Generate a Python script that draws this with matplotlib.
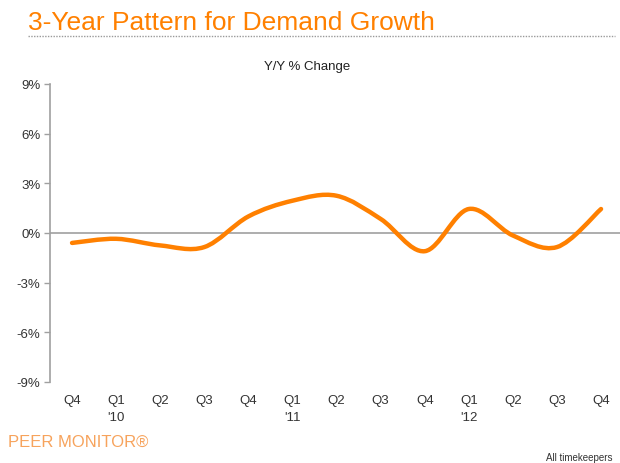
import numpy as np
import matplotlib
matplotlib.use('Agg')
import matplotlib.pyplot as plt
from matplotlib.path import Path
from matplotlib.patches import PathPatch
from matplotlib.lines import Line2D

quarters = ['Q4', 'Q1', 'Q2', 'Q3', 'Q4', 'Q1', 'Q2', 'Q3', 'Q4', 'Q1', 'Q2', 'Q3', 'Q4']
years = ['', "'10", '', '', '', "'11", '', '', '', "'12", '', '', '']
yoy_change = [-0.6, -0.35, -0.75, -0.85, 1.0, 1.95, 2.25, 0.85, -1.1, 1.45, -0.15, -0.85, 1.45]
y_ticks = [-9, -6, -3, 0, 3, 6, 9]

orange = '#FF8000'
plt.rcParams['font.family'] = ['Liberation Sans', 'DejaVu Sans']

fig = plt.figure(figsize=(6.2, 4.64), dpi=100)
ax = fig.add_axes([50 / 620, 81 / 464, 1 - 50 / 620, 298 / 464])

x = np.arange(len(yoy_change))
pts = np.column_stack([x, yoy_change])

# smoothed line like the spreadsheet (catmull-rom -> bezier)
verts = [pts[0]]
codes = [Path.MOVETO]
for i in range(len(pts) - 1):
    p0 = pts[max(i - 1, 0)]
    p1 = pts[i]
    p2 = pts[i + 1]
    p3 = pts[min(i + 2, len(pts) - 1)]
    verts += [p1 + (p2 - p0) / 6, p2 - (p3 - p1) / 6, p2]
    codes += [Path.CURVE4] * 3
ax.add_patch(PathPatch(Path(verts, codes), facecolor='none', edgecolor=orange,
                       lw=3.2, capstyle='round', joinstyle='round', zorder=3))

ax.axhline(0, color='#A0A0A0', lw=1.2, zorder=2)

ax.set_xlim(-0.5, 12.43)
ax.set_ylim(-9, 9)
ax.set_yticks(y_ticks)
ax.set_yticklabels([f'{v}%' for v in y_ticks])
ax.set_xticks(x)
ax.set_xticklabels([q + ('\n' + y if y else '') for q, y in zip(quarters, years)],
                   va='top', linespacing=1.45)

for s in ['top', 'right', 'bottom']:
    ax.spines[s].set_visible(False)
ax.spines['left'].set_color('#A0A0A0')
ax.spines['left'].set_linewidth(1.2)
ax.tick_params(axis='y', length=4, width=1, color='#A0A0A0', labelsize=9.5,
               labelcolor='#333333', pad=3)
ax.tick_params(axis='x', length=0, labelsize=9.5, labelcolor='#333333', pad=9)
ax.patch.set_visible(False)

fig.text(28 / 620, 1 - 23 / 464, '3-Year Pattern for Demand Growth', color=orange,
         fontsize=19, va='center', ha='left')
fig.add_artist(Line2D([28 / 620, 615 / 620], [1 - 37 / 464, 1 - 37 / 464],
                      color='#9A9A9A', lw=1, ls=(0, (1, 1)), transform=fig.transFigure))
fig.text(307 / 620, 1 - 67 / 464, 'Y/Y % Change', color='#222222', fontsize=9.5,
         ha='center', va='center')
fig.text(8 / 620, 1 - 442 / 464, 'PEER MONITOR®', color='#F7A35C', fontsize=12,
         ha='left', va='center')
fig.text(612 / 620, 1 - 458 / 464, 'All timekeepers', color='#333333', fontsize=7,
         ha='right', va='center')

fig.savefig('out.png', dpi=100)
